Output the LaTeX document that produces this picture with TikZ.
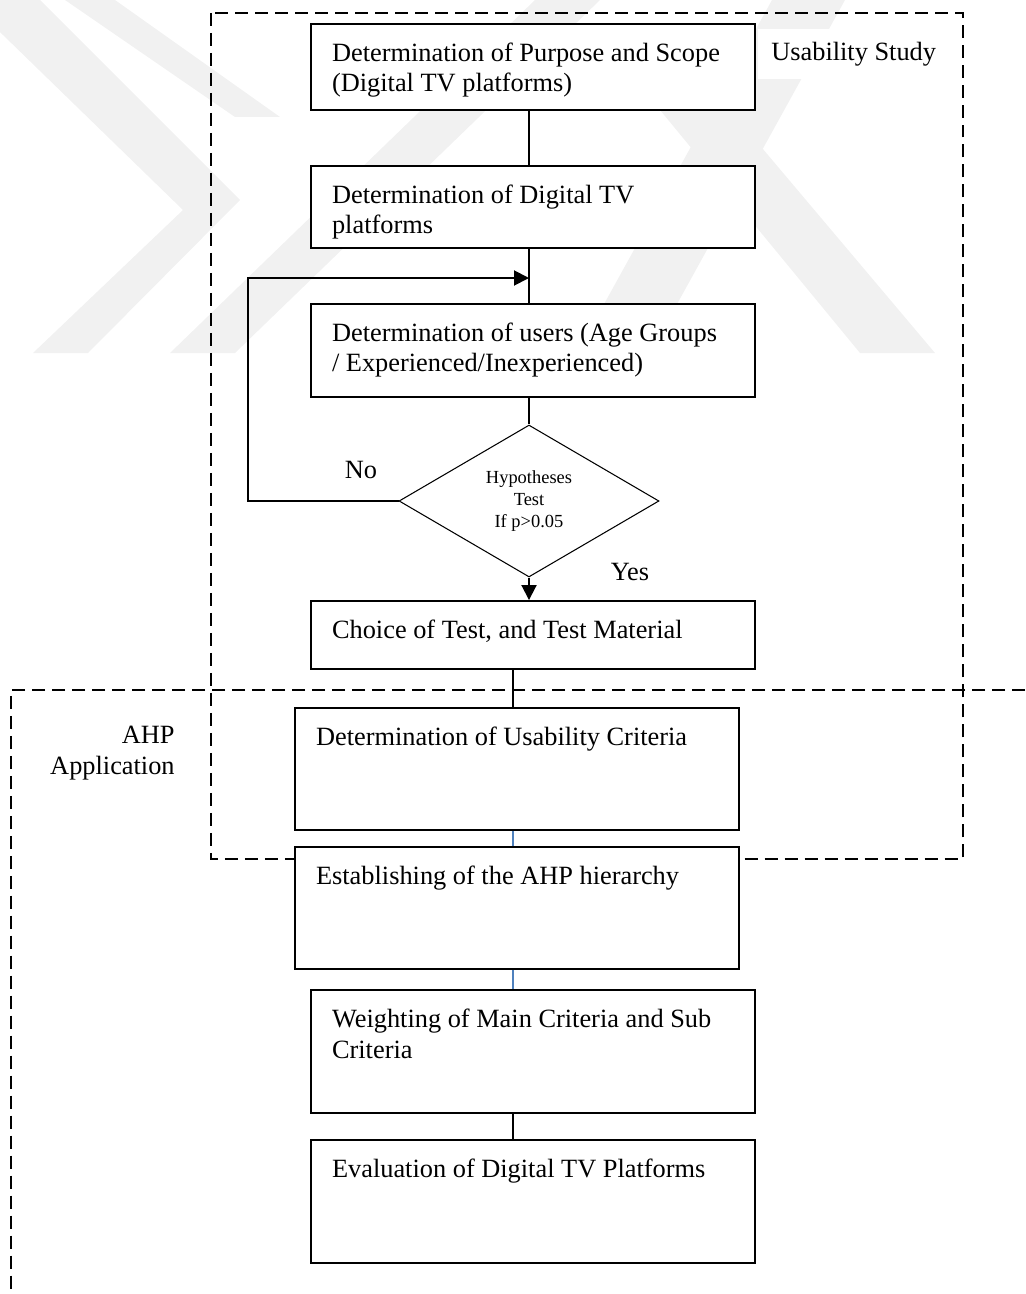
\documentclass[tikz,border=0pt]{standalone}
\usepackage{fontspec}
\setmainfont{Liberation Serif}
\usetikzlibrary{arrows.meta,shapes.geometric}
\definecolor{wmgray}{HTML}{F1F1F1}
\definecolor{linkblue}{HTML}{4F81BD}
\newcommand{\boxtext}[2]{\parbox[c][#1][t]{8.04cm}{\raggedright\vspace*{0.37cm}#2}}

\begin{document}
\begin{tikzpicture}[x=0.02cm,y=-0.02cm,
  font=\fontsize{15}{17.6}\selectfont,
  stage/.style={draw,line width=1.1pt,fill=white,inner xsep=0.42cm,inner ysep=0pt},
  decide/.style={draw,diamond,line width=0.6pt,fill=white,minimum width=5.2cm,minimum height=3.04cm,
    inner sep=0pt,align=center,font=\fontsize{10.5}{12.3}\selectfont},
  region/.style={line width=1.1pt,dash pattern=on 0.26cm off 0.14cm},
  link/.style={line width=1pt},
  bluelink/.style={line width=0.7pt,linkblue},
  loop/.style={line width=1.1pt,-{Triangle[length=0.3cm,width=0.3cm]}},
  tag/.style={inner sep=0pt}]
  \useasboundingbox (0,0) rectangle (1025,1294);

  % watermark
  \fill[wmgray] (-33,0) -- (40,0) -- (240,200) -- (88,353) -- (33,353) -- (183,210) -- cycle;
  \fill[wmgray] (65,0) -- (115,0) -- (280,117) -- (235,117) -- cycle;
  \fill[wmgray] (170,353) -- (235,353) -- (600,0) -- (535,0) -- cycle;
  \fill[wmgray] (577,353) -- (650,353) -- (845,0) -- (772,0) -- cycle;
  \fill[wmgray] (660,110) -- (730,110) -- (935,353) -- (860,353) -- cycle;

  % the two study regions
  \draw[region] (211,13) rectangle (963,859);
  \draw[region] (1025,690) -- (11,690) -- (11,1294);
  \node[tag,fill=white,anchor=west,inner xsep=0.26cm,minimum height=1cm] (ustudy) at (758,54) {Usability Study};
  \node[tag,anchor=east,align=right] (ahp) at (175,753) {AHP\\Application};

  % steps
  \node[stage] (purpose) at (533,67) {\boxtext{1.72cm}{Determination of Purpose and Scope\\(Digital TV platforms)}};
  \node[stage] (platforms) at (533,207) {\boxtext{1.64cm}{Determination of Digital TV\\platforms}};
  \node[stage] (users) at (533,350.5) {\boxtext{1.86cm}{Determination of users (Age Groups\\/ Experienced/Inexperienced)}};
  \node[decide] (hyp) at (529,501) {Hypotheses\\Test\\If p>0.05};
  \node[stage] (choice) at (533,635) {\boxtext{1.36cm}{Choice of Test, and Test Material}};
  \node[stage] (crit) at (517,769) {\boxtext{2.44cm}{Determination of Usability Criteria}};
  \node[stage] (estab) at (517,908) {\boxtext{2.44cm}{Establishing of the AHP hierarchy}};
  \node[stage] (weight) at (533,1051.5) {\boxtext{2.46cm}{Weighting of Main Criteria and Sub\\Criteria}};
  \node[stage] (eval) at (533,1201.5) {\boxtext{2.46cm}{Evaluation of Digital TV Platforms}};

  \node[tag] (no) at (361,470) {No};
  \node[tag] (yes) at (630,572) {Yes};

  % connectors
  \coordinate (merge) at (529,278);
  \coordinate (bend) at (248,278);
  \coordinate (spine) at (513,690);
  \draw[link] (purpose.south -| hyp.north) -- (platforms.north -| hyp.north);
  \draw[link] (platforms.south -| hyp.north) -- (users.north -| hyp.north);
  \draw[link] (users.south -| hyp.north) -- (hyp.north);
  \draw[loop] (hyp.west) -| (bend) -- (merge);
  \draw[loop] (hyp.south) -- (choice.north -| hyp.south);
  \draw[link] (choice.south -| spine) -- (crit.north -| spine);
  \draw[bluelink] (crit.south -| spine) -- (estab.north -| spine);
  \draw[bluelink] (estab.south -| spine) -- (weight.north -| spine);
  \draw[link] (weight.south -| spine) -- (eval.north -| spine);
\end{tikzpicture}
\end{document}
